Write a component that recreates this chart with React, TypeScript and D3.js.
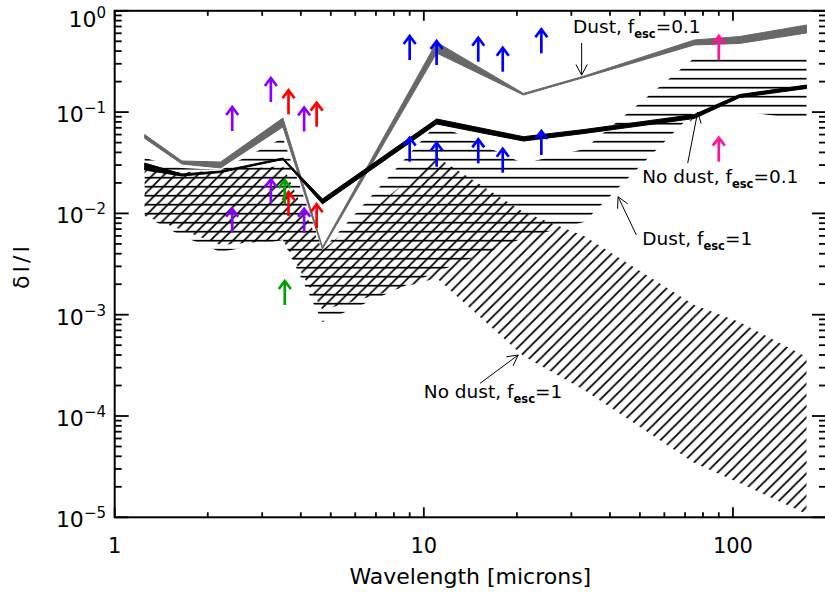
import React from 'react';
import * as d3 from 'd3';

// ---------- data ----------
const WAVE = [1.25, 1.65, 2.2, 3.5, 4.7, 11, 21, 33, 75, 105, 173];

// Dust, f_esc = 0.1 (grey band)
const DUST01_HI = [0.060, 0.0329, 0.0322, 0.0874, 0.00466, 0.49, 0.153, 0.227, 0.515, 0.557, 0.724];
const DUST01_LO = [0.055, 0.0307, 0.0281, 0.0713, 0.00445, 0.383, 0.1475, 0.2196, 0.46, 0.476, 0.604];

// No dust, f_esc = 0.1 (black band)
const NODUST01_HI = [0.0314, 0.0245, 0.0262, 0.0352, 0.0139, 0.0855, 0.0572, 0.0673, 0.0947, 0.149, 0.185];
const NODUST01_LO = [0.0268, 0.0234, 0.0253, 0.0340, 0.0124, 0.0763, 0.0518, 0.0615, 0.0865, 0.139, 0.171];

// Dust, f_esc = 1 (horizontal hatch)
const DUST1_HI = [0.0352, 0.0281, 0.0268, 0.0555, 0.00435, 0.0763, 0.0311, 0.0432, 0.342, 0.350, 0.350];
const DUST1_LO = [0.00943, 0.00598, 0.00416, 0.00546, 0.000847, 0.00264, 0.00572, 0.00823, 0.1002, 0.1025, 0.0836];

// No dust, f_esc = 1 (diagonal hatch)
const NODUST1_HI = [0.0262, 0.0256, 0.0262, 0.0294, 0.00435, 0.0360, 0.0103, 0.00598, 0.00125, 0.000847, 0.000382];
const NODUST1_LO = [0.00943, 0.00686, 0.00488, 0.00546, 0.00111, 0.0023, 0.000391, 0.000181, 3.44e-5, 2.18e-5, 1.08e-5];

// lower-limit arrows (value at the arrow's base)
const PURPLE_WAVE = [2.4, 3.2, 4.1, 2.4, 3.2, 4.1];
const PURPLE_VAL = [0.0651, 0.1258, 0.0644, 0.00645, 0.01258, 0.00645];
const RED_WAVE = [3.65, 4.5, 3.65, 4.5];
const RED_VAL = [0.0951, 0.0718, 0.00943, 0.00713];
const GREEN_WAVE = [3.55, 3.55];
const GREEN_VAL = [0.01238, 0.001247];
const BLUE_WAVE = [9, 11, 15, 18, 24, 9, 11, 15, 18, 24];
const BLUE_VAL = [0.3268, 0.2917, 0.3145, 0.2504, 0.3805, 0.0324, 0.0289, 0.0312, 0.0252, 0.0377];
const PINK_WAVE = [90, 90];
const PINK_VAL = [0.3268, 0.0324];

const X_DOMAIN = [1, 200];
const Y_DOMAIN = [1e-5, 1];

// annotation labels (anchor in data space)
const LABEL_MAIN = ['Dust, f', 'No dust, f', 'Dust, f', 'No dust, f'];
const LABEL_TAIL = ['=0.1', '=0.1', '=1', '=1'];
const LABEL_AT: [number, number][] = [[30.4, 0.60], [50.9, 0.0201], [50.9, 0.00488], [10.0, 1.5e-4]];
const POINTER_FROM: [number, number][] = [[32.4, 0.481], [71.4, 0.0314], [48.7, 0.00612], [15.2, 2.1e-4]];
const POINTER_TO: [number, number][] = [[32.4, 0.232], [76.9, 0.1], [42.5, 0.0146], [20.2, 4.0e-4]];

// ---------- layout ----------
const W = 825;
const H = 592;
const x = d3.scaleLog().domain(X_DOMAIN).range([114.7, 826]);
const y = d3.scaleLog().domain(Y_DOMAIN).range([517.3, 10.8]);
const FONT = 'DejaVu Sans, sans-serif';

function bandPath(lo: number[], hi: number[]) {
  return d3
    .area<number>()
    .x((d) => x(d))
    .y0((_, i) => y(lo[i]))
    .y1((_, i) => y(hi[i]))(WAVE) as string;
}

const isMajor = (t: number) => Math.abs(Math.log10(t) - Math.round(Math.log10(t))) < 1e-9;

function LimitArrow({ cx, cy, color }: { cx: number; cy: number; color: string }) {
  const L = 24;
  const hw = 6;
  const hl = 8;
  return (
    <g stroke={color} strokeWidth={2.7} fill="none">
      <line x1={cx} y1={cy} x2={cx} y2={cy - L + 1} />
      <polyline points={`${cx - hw},${cy - L + hl} ${cx},${cy - L} ${cx + hw},${cy - L + hl}`} strokeLinejoin="miter" />
    </g>
  );
}

function Pointer({ from, to }: { from: [number, number]; to: [number, number] }) {
  const x1 = x(from[0]);
  const y1 = y(from[1]);
  const x2 = x(to[0]);
  const y2 = y(to[1]);
  const ang = Math.atan2(y2 - y1, x2 - x1);
  const len = 12;
  const spread = (28 * Math.PI) / 180;
  const p1 = [x2 - len * Math.cos(ang - spread), y2 - len * Math.sin(ang - spread)];
  const p2 = [x2 - len * Math.cos(ang + spread), y2 - len * Math.sin(ang + spread)];
  return (
    <g stroke="#000" strokeWidth={1} fill="none">
      <line x1={x1} y1={y1} x2={x2} y2={y2} />
      <polyline points={`${p1[0]},${p1[1]} ${x2},${y2} ${p2[0]},${p2[1]}`} />
    </g>
  );
}

export default function App() {
  const [x0, x1] = x.range();
  const [y0, y1] = y.range(); // y0 bottom, y1 top
  const xt = x.ticks();
  const yt = y.ticks();
  const sup = (t: number) => {
    const e = Math.round(Math.log10(t));
    return e < 0 ? '\u2212' + Math.abs(e) : String(e);
  };

  const arrows: { w: number[]; v: number[]; c: string }[] = [
    { w: PURPLE_WAVE, v: PURPLE_VAL, c: '#8A00FF' },
    { w: RED_WAVE, v: RED_VAL, c: '#FF0000' },
    { w: GREEN_WAVE, v: GREEN_VAL, c: '#00A000' },
    { w: BLUE_WAVE, v: BLUE_VAL, c: '#0000FF' },
    { w: PINK_WAVE, v: PINK_VAL, c: '#FF1493' },
  ];

  const P = 11.2;

  return (
    <svg
      width={W}
      height={H}
      style={{ position: 'absolute', left: 0, top: 0, background: '#fff' }}
      fontFamily={FONT}
    >
      <defs>
        <pattern id="hatchH" patternUnits="userSpaceOnUse" x={0} y={0} width={9} height={9}>
          <line x1={-1} x2={10} y1={6.7} y2={6.7} stroke="#000" strokeWidth={1.7} />
        </pattern>
        <pattern id="hatchD" patternUnits="userSpaceOnUse" x={3} y={0} width={P} height={P}>
          <path
            d={`M0,${P} L${P},0 M-2,2 L2,-2 M${P - 2},${P + 2} L${P + 2},${P - 2}`}
            stroke="#000"
            strokeWidth={1.8}
          />
        </pattern>
        <clipPath id="plotClip">
          <rect x={x0} y={y1} width={x1 - x0} height={y0 - y1} />
        </clipPath>
      </defs>
      <rect x={0} y={0} width={W} height={H} fill="#fff" />

      <g clipPath="url(#plotClip)">
        <path d={bandPath(NODUST1_LO, NODUST1_HI)} fill="url(#hatchD)" />
        <path d={bandPath(DUST1_LO, DUST1_HI)} fill="url(#hatchH)" />
        <path d={bandPath(DUST01_LO, DUST01_HI)} fill="#686868" stroke="#686868" strokeWidth={1} strokeLinejoin="round" />
        <path d={bandPath(NODUST01_LO, NODUST01_HI)} fill="#000" stroke="#000" strokeWidth={1} strokeLinejoin="round" />
      </g>

      {arrows.map((a, k) =>
        a.w.map((w, i) => <LimitArrow key={`${k}-${i}`} cx={x(w)} cy={y(a.v[i])} color={a.c} />)
      )}

      {LABEL_MAIN.map((m, i) => (
        <g key={i}>
          <Pointer from={POINTER_FROM[i]} to={POINTER_TO[i]} />
          <text x={x(LABEL_AT[i][0])} y={y(LABEL_AT[i][1])} fontSize={18.5} fill="#000">
            {m}
            <tspan dy={5} fontSize={11.5} fontWeight="bold">esc</tspan>
            <tspan dy={-5}>{LABEL_TAIL[i]}</tspan>
          </text>
        </g>
      ))}

      {/* axes frame */}
      <rect x={x0} y={y1} width={x1 - x0} height={y0 - y1} fill="none" stroke="#000" strokeWidth={2} />

      {/* x ticks */}
      {xt.map((t, i) => {
        const px = x(t);
        const L = isMajor(t) ? 10 : 5;
        return (
          <g key={'xt' + i} stroke="#000" strokeWidth={1.8}>
            <line x1={px} x2={px} y1={y0} y2={y0 - L} />
            <line x1={px} x2={px} y1={y1} y2={y1 + L} />
          </g>
        );
      })}
      {xt.filter(isMajor).map((t, i) => (
        <text key={'xl' + i} x={x(t)} y={553} textAnchor="middle" fontSize={21} fill="#000">
          {String(t)}
        </text>
      ))}

      {/* y ticks */}
      {yt.map((t, i) => {
        const py = y(t);
        const L = isMajor(t) ? 14 : 7;
        return (
          <g key={'yt' + i} stroke="#000" strokeWidth={1.8}>
            <line x1={x0} x2={x0 + L} y1={py} y2={py} />
            <line x1={x1} x2={x1 - L} y1={py} y2={py} />
          </g>
        );
      })}
      {yt.filter(isMajor).map((t, i) => (
        <text key={'yl' + i} x={106} y={Math.max(y(t) + 10, 27)} textAnchor="end" fontSize={22} fill="#000">
          <tspan>10</tspan>
          <tspan dy={-9} fontSize={15}>{sup(t)}</tspan>
        </text>
      ))}

      {/* axis titles */}
      <text x={(x0 + x1) / 2} y={584} textAnchor="middle" fontSize={22} fill="#000">
        Wavelength [microns]
      </text>
      <text
        transform={`translate(29, ${(y0 + y1) / 2 + 2}) rotate(-90)`}
        textAnchor="middle"
        fontSize={22}
        letterSpacing={3}
        fill="#000"
      >
        δI/I
      </text>
    </svg>
  );
}
